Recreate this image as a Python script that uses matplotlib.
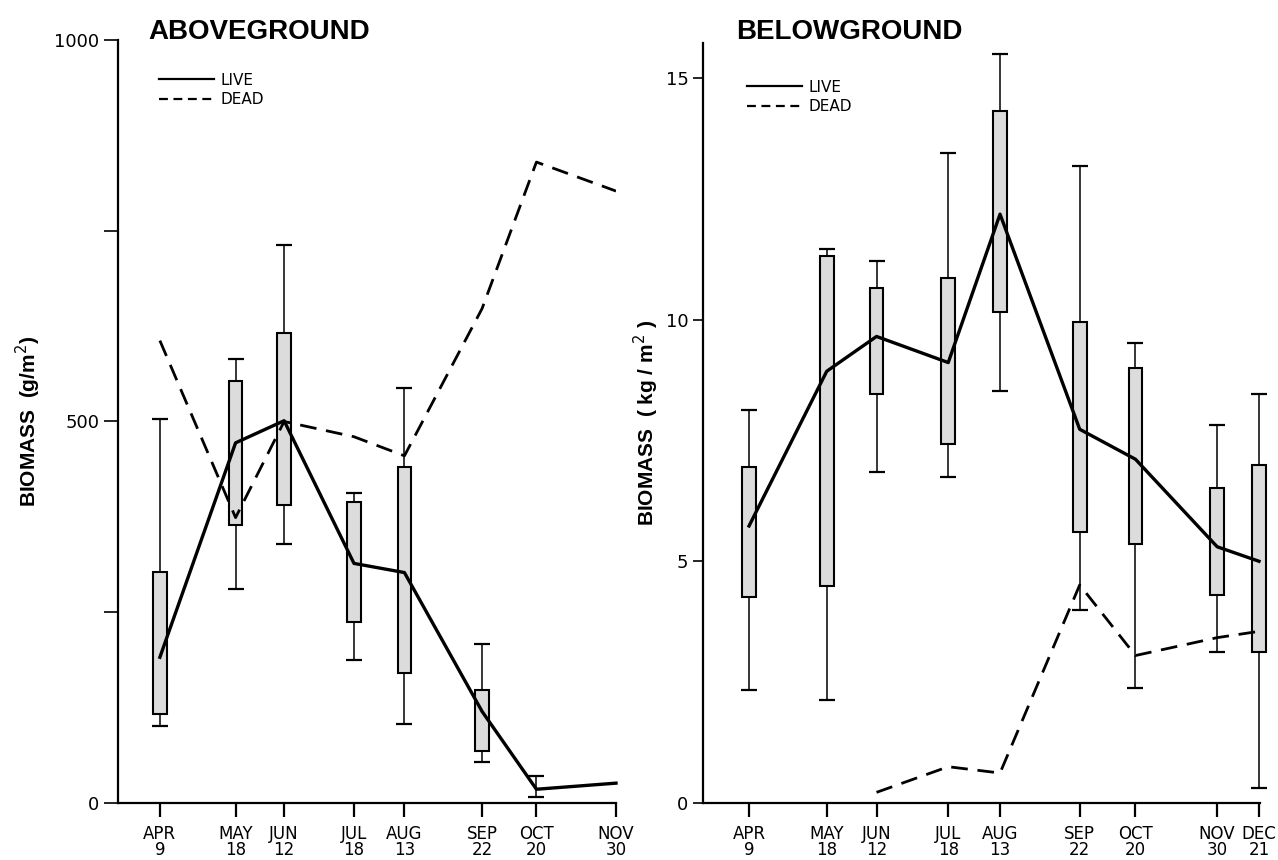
import numpy as np
import matplotlib
matplotlib.use("Agg")
import matplotlib.pyplot as plt
from matplotlib.lines import Line2D

# ── data: sampling dates (day of year) ─────────────────────────
TICK_LABELS = ["APR\n9", "MAY\n18", "JUN\n12", "JUL\n18", "AUG\n13",
               "SEP\n22", "OCT\n20", "NOV\n30", "DEC\n21"]
TICK_DAYS = [99, 138, 163, 199, 225, 265, 293, 334, 355]

# aboveground (g/m2), one entry per date APR..NOV
ab_days = [99, 138, 163, 199, 225, 265, 293, 334]
ab_live = [191, 472, 501, 314, 302, 120, 18, 26]
ab_dead = [606, 374, 500, 480, 455, 648, 840, 802]
ab_box_lo = [116, 364, 391, 237, 171, 68, np.nan, np.nan]
ab_box_hi = [303, 553, 616, 394, 440, 148, np.nan, np.nan]
ab_wsk_lo = [101, 281, 340, 188, 104, 54, 8, np.nan]
ab_wsk_hi = [503, 582, 731, 406, 544, 208, 35, np.nan]

# belowground (kg/m2), APR..DEC
be_days = [99, 138, 163, 199, 225, 265, 293, 334, 355]
be_live = [5.73, 8.93, 9.65, 9.11, 12.18, 7.73, 7.11, 5.30, 5.00]
be_dead = [np.nan, np.nan, 0.22, 0.75, 0.62, 4.51, 3.05, 3.42, 3.55]
be_box_lo = [4.27, 4.49, 8.45, 7.43, 10.16, 5.61, 5.36, 4.30, 3.12]
be_box_hi = [6.94, 11.31, 10.66, 10.85, 14.32, 9.95, 8.99, 6.51, 7.00]
be_wsk_lo = [2.33, 2.14, 6.84, 6.74, 8.52, 4.00, 2.38, 3.13, 0.30]
be_wsk_hi = [8.12, 11.45, 11.22, 13.44, 15.50, 13.17, 9.52, 7.82, 8.45]

TICK_FONT = "DejaVu Sans"
BOLD_FONT = "Liberation Sans"


def draw_panel(ax, days, live, dead, box_lo, box_hi, wsk_lo, wsk_hi, width):
    days = np.array(days, float)
    wlo, whi = np.array(wsk_lo, float), np.array(wsk_hi, float)
    blo, bhi = np.array(box_lo, float), np.array(box_hi, float)
    ok = ~np.isnan(wlo)
    mid = (wlo + whi) / 2
    eb = ax.errorbar(days[ok], mid[ok],
                     yerr=[(mid - wlo)[ok], (whi - mid)[ok]],
                     fmt="none", ecolor="black", elinewidth=1.1, capsize=6,
                     capthick=1.6, zorder=2)
    okb = ~np.isnan(blo)
    bars = ax.bar(days[okb], (bhi - blo)[okb], bottom=blo[okb], width=width,
                  color="#dcdcdc", edgecolor="black", linewidth=1.5,
                  zorder=3)
    # last box/whisker sits on the axis end -> don't clip
    for b in bars:
        b.set_clip_on(False)
    for part in eb.lines:
        if part is None:
            continue
        for a in (part if isinstance(part, tuple) else [part]):
            a.set_clip_on(False)
    ax.plot(days, live, color="black", lw=2.4, zorder=5, clip_on=False)
    ax.plot(days, dead, color="black", lw=2.0, ls=(0, (6, 3.5)), zorder=4)

    ax.spines["top"].set_visible(False)
    ax.spines["right"].set_visible(False)
    for s in ("left", "bottom"):
        ax.spines[s].set_linewidth(1.6)
    ax.tick_params(axis="x", direction="out", length=10, width=1.6,
                   labelsize=12, pad=6)
    ax.tick_params(axis="y", direction="out", length=10, width=1.2,
                   labelsize=13)
    ax.set_xticks(TICK_DAYS[:len(days)])
    ax.set_xticklabels(TICK_LABELS[:len(days)], fontfamily=TICK_FONT,
                       linespacing=0.85)

    handles = [Line2D([], [], color="black", lw=1.6),
               Line2D([], [], color="black", lw=1.6, ls=(0, (4, 2.5)))]
    ax.legend(handles, ["LIVE", "DEAD"], loc="upper left", frameon=False,
              handlelength=3.6, handletextpad=0.4, labelspacing=0.3,
              prop={"family": TICK_FONT, "size": 11})


fig = plt.figure(figsize=(12.78, 8.6), dpi=100)

# ── aboveground ─────────────────────────────────────────────
ax1 = fig.add_axes([0.0923, 0.0663, 0.3897, 0.8872])
draw_panel(ax1, ab_days, ab_live, ab_dead, ab_box_lo, ab_box_hi,
           ab_wsk_lo, ab_wsk_hi, width=7)
ax1.set_xlim(77.4, 334)
ax1.set_ylim(0, 1000)
ax1.set_yticks([0, 500, 1000])
ax1.set_yticks([250, 750], minor=True)
ax1.tick_params(axis="y", which="minor", direction="out", length=10,
                width=1.2)
ax1.set_yticklabels(["0", "500", "1000"], fontfamily=TICK_FONT)
ax1.set_ylabel("BIOMASS  (g/m$^2$)", fontfamily=BOLD_FONT,
               fontweight="bold", fontsize=15, labelpad=8)
ax1.legend_.set_bbox_to_anchor((0.055, 0.975))
fig.text(0.116, 0.963, "ABOVEGROUND", fontfamily=BOLD_FONT,
         fontweight="bold", fontsize=20, va="center")

# ── belowground ─────────────────────────────────────────────
ax2 = fig.add_axes([0.5501, 0.0663, 0.4358, 0.8837])
draw_panel(ax2, be_days, be_live, be_dead, be_box_lo, be_box_hi,
           be_wsk_lo, be_wsk_hi, width=7)
ax2.set_xlim(75.9, 355.5)
ax2.set_ylim(0, 15.72)
ax2.set_yticks([0, 5, 10, 15])
ax2.tick_params(axis="y", length=7)
ax2.set_yticklabels(["0", "5", "10", "15"], fontfamily=TICK_FONT)
ax2.set_ylabel("BIOMASS  ( kg / m$^2$ )", fontfamily=BOLD_FONT,
               fontweight="bold", fontsize=15, labelpad=3)
ax2.legend_.set_bbox_to_anchor((0.055, 0.97))
fig.text(0.576, 0.963, "BELOWGROUND", fontfamily=BOLD_FONT,
         fontweight="bold", fontsize=20, va="center")

fig.savefig("out.png", dpi=100)
